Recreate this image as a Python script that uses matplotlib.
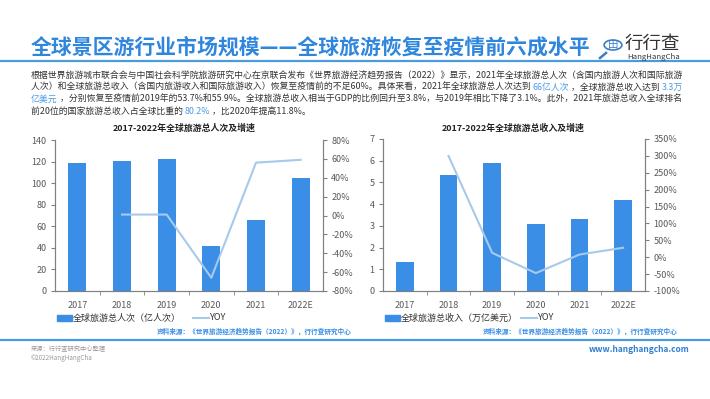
import matplotlib
matplotlib.use('Agg')
import matplotlib.pyplot as plt
from matplotlib.ticker import FuncFormatter, MultipleLocator
from matplotlib.patches import Circle
from matplotlib.lines import Line2D

plt.rcParams['font.family'] = ['Noto Sans CJK SC', 'DejaVu Sans']

# data
years = ['2017', '2018', '2019', '2020', '2021', '2022E']
visitors = [119, 120.8, 122.7, 42, 65.8, 105]          # 亿人次
visitors_yoy = [None, 0.01, 0.01, -0.66, 0.56, 0.59]
revenue = [1.34, 5.33, 5.89, 3.10, 3.30, 4.19]          # 万亿美元
revenue_yoy = [None, 3.00, 0.13, -0.47, 0.08, 0.28]

BLUE = '#3A8EE6'
LIGHT = '#A7C9EB'
TITLE_BLUE = '#2F86DD'
GREY = '#595959'
W, H = 710, 399


def fx(x):
    return x / W


def fy(y):
    return 1 - y / H


fig = plt.figure(figsize=(7.1, 3.99), dpi=100)
bg = fig.add_axes([0, 0, 1, 1])
bg.set_xlim(0, 1)
bg.set_ylim(0, 1)
bg.axis('off')

# header
bg.text(fx(31), fy(47), '全球景区游行业市场规模——全球旅游恢复至疫情前六成水平',
        color=TITLE_BLUE, fontsize=15, fontweight='bold', va='center', ha='left')
bg.add_line(Line2D([0, 1], [fy(61), fy(61)], color='#4A9AE0', lw=1.6))
bg.add_line(Line2D([0, 1], [fy(340), fy(340)], color='#4A9AE0', lw=1.6))

# logo
bg.add_patch(Circle((fx(613), fy(45)), 0.0125, transform=bg.transAxes,
                    fill=False, ec='#3A7FC8', lw=1.2))
bg.text(fx(613), fy(45), '田', color='#3A7FC8', fontsize=7.5, ha='center', va='center')
bg.add_line(Line2D([fx(606), fx(600)], [fy(53), fy(58)], color='#3A7FC8', lw=1.8))
bg.text(fx(625), fy(44), '行行查', color='#333333', fontsize=13.3, va='center', ha='left')
bg.text(fx(627), fy(57), 'HangHangCha', color='#333333', fontsize=5.6, va='center', ha='left')

# paragraph, one list of (text, highlighted) per line
para = [
    [('根据世界旅游城市联合会与中国社会科学院旅游研究中心在京联合发布《世界旅游经济趋势报告（2022）》显示，2021年全球旅游总人次（含国内旅游人次和国际旅游', False)],
    [('人次）和全球旅游总收入（含国内旅游收入和国际旅游收入）恢复至疫情前的不足60%。具体来看，2021年全球旅游总人次达到 ', False),
     ('66亿人次', True), (' ，全球旅游总收入达到 ', False), ('3.3万', True)],
    [('亿美元', True),
     (' ，分别恢复至疫情前2019年的53.7%和55.9%。全球旅游总收入相当于GDP的比例回升至3.8%，与2019年相比下降了3.1%。此外，2021年旅游总收入全球排名', False)],
    [('前20位的国家旅游总收入占全球比重的 ', False), ('80.2%', True), (' ，比2020年提高11.8%。', False)],
]
line_y = [75, 87, 99, 111]
for segs, y in zip(para, line_y):
    prev = None
    for txt, hl in segs:
        col = '#4C9BE6' if hl else '#333333'
        if prev is None:
            prev = bg.text(fx(31), fy(y), txt, color=col, fontsize=6.4, va='center', ha='left')
        else:
            prev = bg.annotate(txt, xy=(1, 0), xycoords=prev, color=col, fontsize=6.4,
                               va='bottom', ha='left')

# footer
bg.text(fx(31), fy(349), '来源：行行查研究中心整理', color='#999999', fontsize=4.5, va='center')
bg.text(fx(31), fy(358), '©2022HangHangCha', color='#999999', fontsize=4.5, va='center')
bg.text(fx(690), fy(350), 'www.hanghangcha.com', color='#2F7FD0', fontsize=6,
        fontweight='bold', va='center', ha='right')


def pct(v, _):
    return f'{v * 100:.0f}%'


def draw_chart(rect, vals, yoy, ymax, ystep, rlim, rstep, title, legend_label,
               title_x, src_x):
    ax = fig.add_axes(rect)
    x = list(range(len(years)))
    ax.bar(x, vals, width=0.41, color=BLUE, zorder=2)
    ax.set_xlim(-0.5, len(years) - 0.5)
    ax.set_ylim(0, ymax)
    ax.yaxis.set_major_locator(MultipleLocator(ystep))
    ax.set_xticks(x)
    ax.set_xticklabels(years)
    ax.set_xticks([i + 0.5 for i in x[:-1]], minor=True)
    ax.tick_params(axis='x', which='major', length=0, pad=7, labelsize=6.5, labelcolor=GREY)
    ax.tick_params(axis='x', which='minor', length=3, color='#808080', direction='out')
    ax.tick_params(axis='y', length=3, color='#808080', labelsize=6.5, labelcolor=GREY, pad=3)
    for s in ['left', 'bottom', 'right']:
        ax.spines[s].set_color('#808080')
        ax.spines[s].set_linewidth(0.8)
    ax.spines['top'].set_visible(False)

    ax2 = ax.twinx()
    xs = [i for i, v in zip(x, yoy) if v is not None]
    ys = [v for v in yoy if v is not None]
    ax2.plot(xs, ys, color=LIGHT, lw=1.5, zorder=3)
    ax2.set_ylim(*rlim)
    ax2.yaxis.set_major_locator(MultipleLocator(rstep))
    ax2.yaxis.set_major_formatter(FuncFormatter(pct))
    ax2.tick_params(axis='y', length=3, color='#808080', labelsize=6.5, labelcolor=GREY, pad=3)
    for s in ['left', 'bottom', 'right']:
        ax2.spines[s].set_color('#808080')
        ax2.spines[s].set_linewidth(0.8)
    ax2.spines['top'].set_visible(False)

    bg.text(fx(title_x), fy(128), title, fontsize=6.4, fontweight='bold',
            color='#222222', ha='center', va='center')
    lx = rect[0] * W + 2
    bg.add_patch(plt.Rectangle((fx(lx), fy(321)), fx(15), 6 / H, color=BLUE))
    bg.text(fx(lx + 16), fy(318), legend_label, fontsize=6.5, color='#333333', va='center')
    bg.add_line(Line2D([fx(lx + 136), fx(lx + 152)], [fy(318), fy(318)], color=LIGHT, lw=1.5))
    bg.text(fx(lx + 153), fy(318), 'YOY', fontsize=6.5, color='#333333', va='center')
    bg.text(fx(src_x), fy(331), '资料来源：《世界旅游经济趋势报告（2022）》，行行查研究中心',
            fontsize=4.8, fontweight='bold', color='#3A8EE6', ha='right', va='center')
    return ax


draw_chart([55 / W, 1 - 291 / H, 268 / W, 151 / H], visitors, visitors_yoy, 140, 20,
           (-0.8, 0.8), 0.2, '2017-2022年全球旅游总人次及增速', '全球旅游总人次（亿人次）',
           184, 352)
draw_chart([383 / W, 1 - 291 / H, 262 / W, 152 / H], revenue, revenue_yoy, 7, 1,
           (-1.0, 3.5), 0.5, '2017-2022年全球旅游总收入及增速', '全球旅游总收入（万亿美元）',
           513, 678)

fig.savefig('out.png', dpi=100)
